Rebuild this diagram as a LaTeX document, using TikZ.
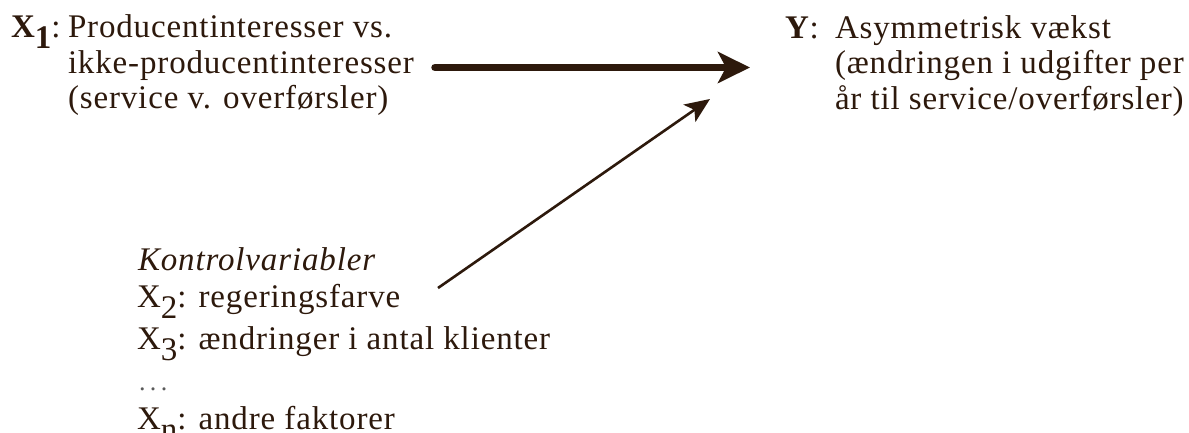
\documentclass[tikz,border=0pt]{standalone}
\usepackage{fontspec}
\setmainfont{Liberation Serif}[LetterSpace=2.6]
\usetikzlibrary{arrows.meta}
\definecolor{ink}{RGB}{45,25,12}
\definecolor{dotgray}{RGB}{90,90,90}
\newcommand\lowsub[1]{\raisebox{-11pt}{#1}}
\begin{document}
\begin{tikzpicture}[x=1pt,y=-1pt,
  txt/.style={inner sep=0pt, outer sep=0pt, anchor=base west, text=ink, font=\fontsize{33}{38}\selectfont},
  bigarrow/.style={draw=ink, line width=7.5pt, line cap=round, -{Stealth[length=32pt,width=31pt,inset=8pt]}},
  thinarrow/.style={draw=ink, line width=2.6pt, -{Stealth[length=25pt,width=21pt,inset=6pt]}}]
\useasboundingbox (0,0) rectangle (1189,433);
\fill[white] (0,0) rectangle (1189,433);
% X1 block
\node[txt] (x1lab) at (11,38) {\textbf{X\lowsub{1}}:};
\node[txt] (x1a) at (68,38) {Producentinteresser vs.};
\node[txt] (x1b) at (68,73.5) {ikke-producentinteresser};
\node[txt] (x1c) at (68,109) {(service v. overførsler)};
% Y block
\node[txt] (ylab) at (785,38.5) {\textbf{Y}:};
\node[txt] (ya) at (835,38.5) {Asymmetrisk vækst};
\node[txt] (yb) at (835,74) {(ændringen i udgifter per};
\node[txt] (yc) at (835,109.5) {år til service/overførsler)};
% control variables
\node[txt] (ktitle) at (138,270) {\textit{Kontrolvariabler}};
\node[txt] (x2) at (137,307) {X\lowsub{2}: regeringsfarve};
\node[txt] (x3) at (137,349) {X\lowsub{3}: ændringer i antal klienter};
\node[txt, text=dotgray, font=\fontsize{26}{26}\selectfont] (dots) at (139,390) {.\hspace{4.5pt}.\hspace{4.5pt}.};
\node[txt] (xn) at (137,429) {X\lowsub{n}: andre faktorer};
% connectors
\coordinate (a1s) at (435,67.5);
\coordinate (a1e) at (750,67.5);
\coordinate (a2s) at (438,288);
\coordinate (a2e) at (710,99);
\draw[bigarrow] (a1s) -- (a1e);
\draw[thinarrow] (a2s) -- (a2e);
\end{tikzpicture}
\end{document}
